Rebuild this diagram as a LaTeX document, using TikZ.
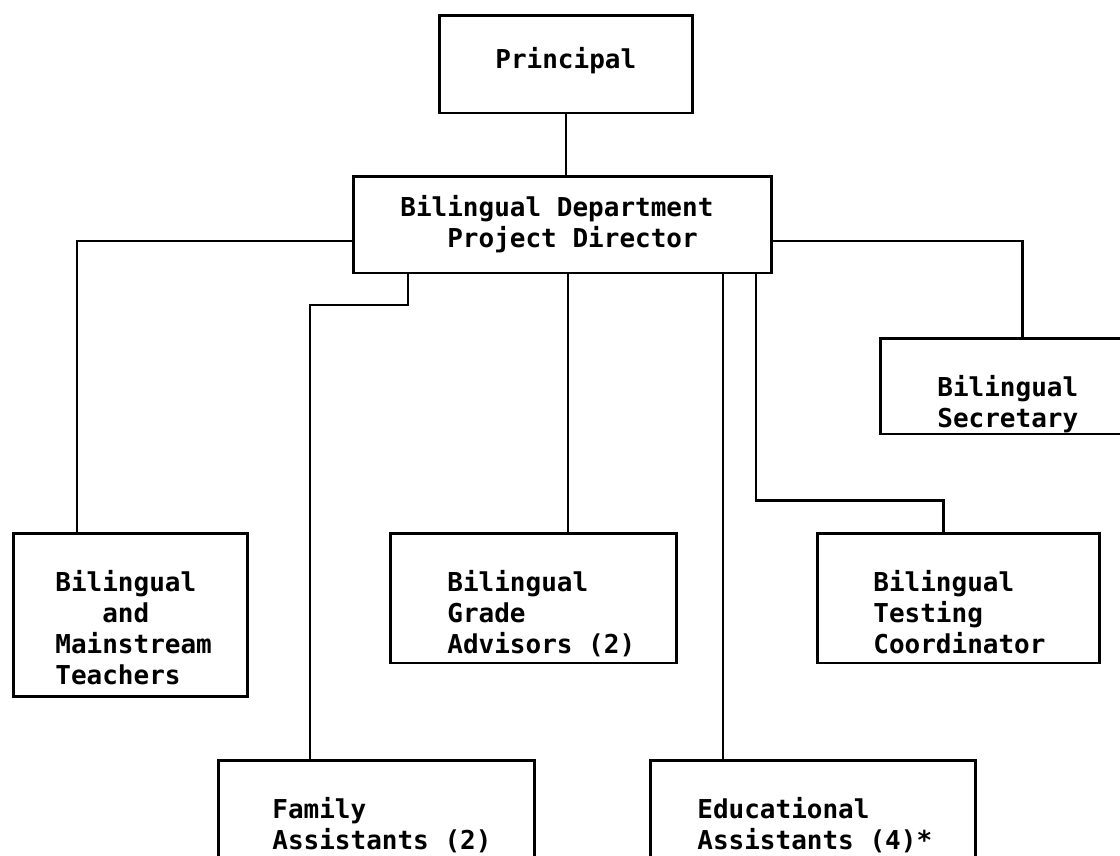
\documentclass[tikz,border=0pt]{standalone}
\usepackage{fontspec}
\setmonofont{DejaVu Sans Mono}
\usetikzlibrary{positioning,calc}

\begin{document}
\begin{tikzpicture}[x=0.02cm,y=-0.02cm,
  box/.style={draw,line width=1.7pt,inner sep=0pt},
  lbl/.style={anchor=north west,inner sep=0pt,align=left,
    font=\ttfamily\bfseries\fontsize{14.8pt}{17.6pt}\selectfont},
  link/.style={line width=1.7pt}]
  \useasboundingbox (0,0) rectangle (1120,856);
  \clip (0,0) rectangle (1120,856);

  % boxes
  \node[box,minimum width=5.08cm,minimum height=1.96cm] (principal) at (566,64) {};
  \node[box,minimum width=8.38cm,minimum height=1.94cm] (director) at (562.5,224.5) {};
  \node[box,minimum width=5.10cm,minimum height=1.92cm] (secretary) at (1007.5,386) {};
  \node[box,minimum width=4.70cm,minimum height=3.28cm] (teachers) at (130.5,615) {};
  \node[box,minimum width=5.74cm,minimum height=2.60cm] (grade) at (533.5,598) {};
  \node[box,minimum width=5.66cm,minimum height=2.60cm] (testing) at (958.5,598) {};
  \node[box,minimum width=6.34cm,minimum height=2.40cm] (family) at (376.5,820) {};
  \node[box,minimum width=6.52cm,minimum height=2.40cm] (educ) at (813,820) {};

  % texts
  \node[lbl] (principal-t) at (495,47) {Principal};
  \node[lbl] (director-t) at (400,195) {Bilingual Department\\~~~Project Director};
  \node[lbl] (secretary-t) at (937,375) {Bilingual\\Secretary};
  \node[lbl] (teachers-t) at (55,570) {Bilingual\\~~~and\\Mainstream\\Teachers};
  \node[lbl] (grade-t) at (447,570) {Bilingual\\Grade\\Advisors (2)};
  \node[lbl] (testing-t) at (873,570) {Bilingual\\Testing\\Coordinator};
  \node[lbl] (family-t) at (272,797) {Family\\Assistants (2)};
  \node[lbl] (educ-t) at (697,797) {Educational\\Assistants (4)*};

  % joints
  \coordinate (lj) at (77,241);
  \coordinate (rj) at (1022,241);
  \coordinate (fj1) at (408,305);
  \coordinate (fj2) at (310,305);
  \coordinate (tj1) at (756,500);
  \coordinate (tj2) at (943,500);
  \coordinate (gj) at (568,400);
  \coordinate (ej) at (723,500);

  \draw[link] (principal.south) -- (principal.south |- director.north);
  \draw[link] (director.west |- lj) -- (lj) -- (teachers.north -| lj);
  \draw[link] (director.east |- rj) -- (rj) -- (secretary.north -| rj);
  \draw[link] (director.south -| fj1) -- (fj1) -- (fj2) -- (family.north -| fj2);
  \draw[link] (director.south -| tj1) -- (tj1) -- (tj2) -- (testing.north -| tj2);
  \foreach \j/\b in {gj/grade,ej/educ}
    \draw[link] (director.south -| \j) -- (\b.north -| \j);
\end{tikzpicture}
\end{document}
